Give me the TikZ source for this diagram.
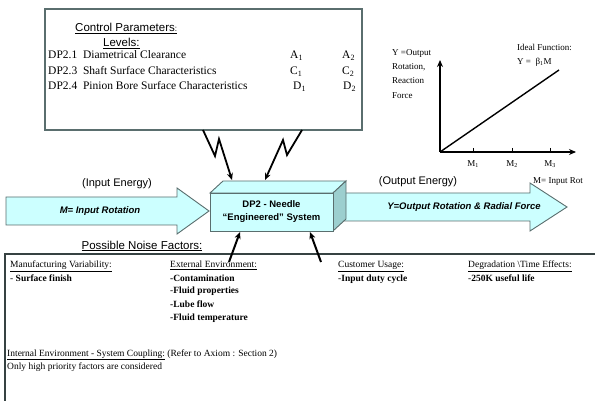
\documentclass[tikz,border=0pt]{standalone}
\usepackage{fontspec}
\setmainfont{Liberation Serif}
\setsansfont{Liberation Sans}
\usetikzlibrary{arrows.meta}
\definecolor{boxfill}{HTML}{CCFFFF}
\definecolor{sidefill}{HTML}{9CCFCF}
\definecolor{edgegray}{HTML}{5A6E6E}
\begin{document}
\begin{tikzpicture}[x=1pt,y=-1pt,
  txt/.style={inner sep=0pt,anchor=base west},
  ctl/.style={txt,font=\fontsize{11.5}{13}\selectfont},
  noise/.style={txt,font=\fontsize{9.5}{11}\selectfont},
  graphlbl/.style={txt,font=\fontsize{9}{10}\selectfont},
  sanslbl/.style={inner sep=0pt,anchor=base,font=\sffamily\fontsize{11}{13}\selectfont},
  bigarrow/.style={fill=boxfill,draw=edgegray,line width=0.9pt,line join=miter},
  bolt/.style={line width=1.8pt,-{Stealth[length=7pt,width=6pt]}},
  axis/.style={line width=1.8pt,-{Stealth[length=7pt,width=6pt]}},
  noisearrow/.style={line width=2pt,-{Stealth[length=7pt,width=6pt]}}]
\useasboundingbox (0,0) rectangle (595,401);

% ---- control parameter box
\draw[edgegray,line width=1.2pt] (45,9) rectangle (362,130);
\node[txt,font=\sffamily\fontsize{11.5}{13}\selectfont] (cp) at (75,32) {\underline{Control Parameters}\fontsize{8}{9}\selectfont\underline{:}};
\node[txt,font=\sffamily\fontsize{11.5}{13}\selectfont] (lev) at (103,47) {\underline{Levels:}};
\node[ctl] (r1) at (48,59) {DP2.1\ \ Diametrical Clearance};
\node[ctl] (r3) at (48,75) {DP2.3\ \ Shaft Surface Characteristics};
\node[ctl] (r4) at (48,90) {DP2.4\ \ Pinion Bore Surface Characteristics};
\node[ctl] (a1) at (290,59) {A\textsubscript{1}};
\node[ctl] (a2) at (342,59) {A\textsubscript{2}};
\node[ctl] (c1) at (290,75) {C\textsubscript{1}};
\node[ctl] (c2) at (342,75) {C\textsubscript{2}};
\node[ctl] (d1) at (293,90) {D\textsubscript{1}};
\node[ctl] (d2) at (343,90) {D\textsubscript{2}};

% ---- ideal function graph
\coordinate (O) at (440,152);
\coordinate (yend) at (440,60);
\coordinate (xend) at (576,152);
\coordinate (lend) at (559,70);
\draw[axis] (O) -- (yend);
\draw[axis] (O) -- (xend);
\draw[line width=1.4pt] (O) -- (lend);
\foreach \x/\n in {473/1,512/2,550/3}{
  \draw[line width=0.8pt] (\x,148) -- (\x,152);
  \node[graphlbl,anchor=base] at (\x,167) {M\textsubscript{\n}};
}
\node[graphlbl] (yl1) at (392,56) {Y =Output};
\node[graphlbl] (yl2) at (392,70) {Rotation,};
\node[graphlbl] (yl3) at (392,84) {Reaction};
\node[graphlbl] (yl4) at (392,99) {Force};
\node[graphlbl] (if1) at (517,51) {Ideal Function:};
\node[graphlbl] (if2) at (517,65) {Y =\ \ β\textsubscript{1}M};
\node[graphlbl] (mir) at (533,184) {M= Input Rot};

% ---- input arrow
\draw[bigarrow] (6,197) -- (177,197) -- (177,188) -- (209,211) -- (177,234) -- (177,225) -- (6,225) -- cycle;
\node[inner sep=0pt,font=\sffamily\bfseries\itshape\fontsize{9.5}{11}\selectfont] (minp) at (100,211) {M= Input Rotation};
\node[sanslbl] (ie) at (117,187) {(Input Energy)};

% ---- output arrow
\draw[bigarrow] (338,193) -- (530,193) -- (530,183) -- (567,207) -- (530,231) -- (530,221) -- (338,221) -- cycle;
\node[inner sep=0pt,font=\sffamily\bfseries\itshape\fontsize{9.5}{11}\selectfont] (yout) at (464,207) {Y=Output Rotation \& Radial Force};
\node[sanslbl] (oe) at (418,185) {(Output Energy)};

% ---- 3D system box
\draw[bigarrow,fill=boxfill] (210,193) -- (223,181) -- (346,181) -- (333,193) -- cycle;
\draw[bigarrow,fill=sidefill] (333,193) -- (346,181) -- (346,219) -- (333,231) -- cycle;
\draw[bigarrow] (210,193) rectangle (333,231);
\node[inner sep=0pt,align=center,font=\sffamily\bfseries\fontsize{9.5}{13}\selectfont] (dp2) at (271.5,211.5) {DP2 - Needle\\“Engineered” System};

% ---- lightning arrows
\coordinate (b1) at (203,130);
\coordinate (t1) at (232,180);
\draw[bolt] (b1) -- (215,156) -- (219,139) -- (t1);
\coordinate (b2) at (302,130);
\coordinate (t2) at (265,180);
\draw[bolt] (b2) -- (287,155) -- (283,140) -- (t2);

% ---- noise section
\node[sanslbl,font=\sffamily\fontsize{11.5}{13}\selectfont] (pnf) at (142,249) {\underline{Possible Noise Factors:}};
\draw[edgegray!60!black,line width=1.2pt] (595,254) -- (5,254) -- (5,401);
\coordinate (n1) at (229,262);
\coordinate (n1t) at (240,232);
\coordinate (n2) at (321,262);
\coordinate (n2t) at (310,232);
\draw[noisearrow] (n1) -- (n1t);
\draw[noisearrow] (n2) -- (n2t);

\node[noise] (mv) at (10,268) {\underline{Manufacturing Variability:}};
\node[noise] (sf) at (10,281) {- \textbf{Surface finish}};
\node[noise] (ee) at (170,268) {\underline{External Environment:}};
\node[noise] (e1) at (170,281) {\textbf{-Contamination}};
\node[noise] (e2) at (170,294) {-\textbf{Fluid properties}};
\node[noise] (e3) at (170,307) {\textbf{-Lube flow}};
\node[noise] (e4) at (170,320) {\textbf{-Fluid temperature}};
\node[noise] (cu) at (338,268) {\underline{Customer Usage:}};
\node[noise] (cu1) at (338,281) {-\textbf{Input duty cycle}};
\node[noise] (dg) at (468,268) {\underline{Degradation \textbackslash Time Effects:}};
\node[noise] (dg1) at (468,281) {-\textbf{250K useful life}};
\node[noise] (ie2) at (7,356) {\underline{Internal Environment - System Coupling:} (Refer to Axiom : Section 2)};
\node[noise] (oh) at (7,369) {Only high priority factors are considered};
\end{tikzpicture}
\end{document}
